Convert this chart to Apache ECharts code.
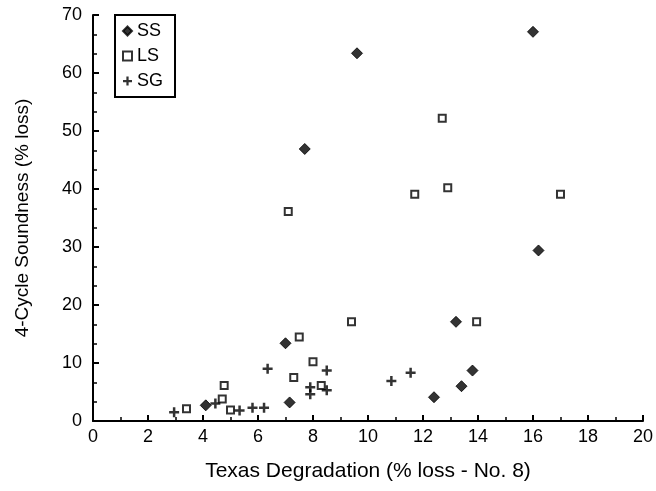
<!DOCTYPE html>
<html>
<head>
<meta charset="utf-8">
<title>4-Cycle Soundness vs Texas Degradation</title>
<script src="https://cdn.jsdelivr.net/npm/echarts@6/dist/echarts.min.js"></script>
<style>
  html, body { margin: 0; padding: 0; background: #fff; }
  #chart { width: 656px; height: 491px; }
</style>
</head>
<body>
<div id="chart"></div>
<script>
// Aggregate groups: [Texas degradation % loss (No. 8), 4-cycle soundness % loss]
const ssPoints = [
  [9.6, 63.4], [16.0, 67.1], [7.7, 46.9], [16.2, 29.4], [13.2, 17.1],
  [13.8, 8.7], [13.4, 6.0], [12.4, 4.1], [7.0, 13.4], [7.15, 3.2], [4.1, 2.7]
];
const lsPoints = [
  [7.1, 36.1], [12.7, 52.2], [11.7, 39.1], [12.9, 40.2], [17.0, 39.1],
  [9.4, 17.1], [13.95, 17.1], [7.5, 14.5], [8.0, 10.2], [7.3, 7.5],
  [8.3, 6.1], [4.77, 6.1], [4.7, 3.8], [5.0, 1.9], [3.4, 2.1]
];
const sgPoints = [
  [2.95, 1.5], [4.45, 3.0], [5.33, 1.8], [5.8, 2.3], [6.22, 2.3],
  [6.35, 9.0], [8.5, 8.7], [7.9, 5.8], [7.9, 4.6], [8.5, 5.3],
  [10.85, 6.9], [11.55, 8.3]
];
const seriesNames = ['SS', 'LS', 'SG'];
const xTitle = 'Texas Degradation (% loss - No. 8)';
const yTitle = '4-Cycle Soundness (% loss)';

const FONT = '"Liberation Sans", Arial, Helvetica, sans-serif';
const INK = '#000';
const plusPath = 'path://M-1,-4 L1,-4 L1,-1 L4,-1 L4,1 L1,1 L1,4 L-1,4 L-1,1 L-4,1 L-4,-1 L-1,-1 Z';

const chart = echarts.init(document.getElementById('chart'), null, { renderer: 'canvas' });

chart.setOption({
  backgroundColor: '#fff',
  animation: false,
  textStyle: { fontFamily: FONT, color: INK },
  grid: { left: 93, right: 7, top: 15, bottom: 70, containLabel: false },
  legend: {
    orient: 'vertical',
    left: 115,
    top: 15,
    padding: [7, 12, 7, 7],
    itemGap: 7,
    itemWidth: 9,
    itemHeight: 9,
    borderColor: INK,
    borderWidth: 2,
    backgroundColor: '#fff',
    textStyle: { fontFamily: FONT, fontSize: 18, color: INK },
    data: seriesNames
  },
  xAxis: {
    type: 'value',
    min: 0,
    max: 20,
    interval: 2,
    name: xTitle,
    nameLocation: 'middle',
    nameGap: 40,
    nameTextStyle: { fontFamily: FONT, fontSize: 21, color: INK },
    axisLine: { show: true, onZero: false, lineStyle: { color: INK, width: 2 } },
    axisTick: { show: true, inside: true, length: 6, lineStyle: { color: INK, width: 2 } },
    minorTick: { show: true, splitNumber: 2, length: 4, lineStyle: { color: INK, width: 1.5 } },
    axisLabel: { fontFamily: FONT, fontSize: 18, color: INK, margin: 7 },
    splitLine: { show: false }
  },
  yAxis: {
    type: 'value',
    min: 0,
    max: 70,
    interval: 10,
    name: yTitle,
    nameLocation: 'middle',
    nameGap: 61,
    nameTextStyle: { fontFamily: FONT, fontSize: 19, color: INK },
    axisLine: { show: true, onZero: false, lineStyle: { color: INK, width: 2 } },
    axisTick: { show: true, inside: true, length: 6, lineStyle: { color: INK, width: 2 } },
    minorTick: { show: true, splitNumber: 3, length: 4, lineStyle: { color: INK, width: 1.5 } },
    axisLabel: { fontFamily: FONT, fontSize: 18, color: INK, margin: 11 },
    splitLine: { show: false }
  },
  series: [
    {
      name: seriesNames[0],
      type: 'scatter',
      data: ssPoints,
      symbol: 'diamond',
      symbolSize: 11,
      itemStyle: { color: INK, borderColor: INK, borderWidth: 1 }
    },
    {
      name: seriesNames[1],
      type: 'scatter',
      data: lsPoints,
      symbol: 'rect',
      symbolSize: 7,
      itemStyle: { color: '#fff', borderColor: INK, borderWidth: 2 }
    },
    {
      name: seriesNames[2],
      type: 'scatter',
      data: sgPoints,
      symbol: plusPath,
      symbolSize: 10,
      itemStyle: { color: INK }
    }
  ]
});
</script>
</body>
</html>
